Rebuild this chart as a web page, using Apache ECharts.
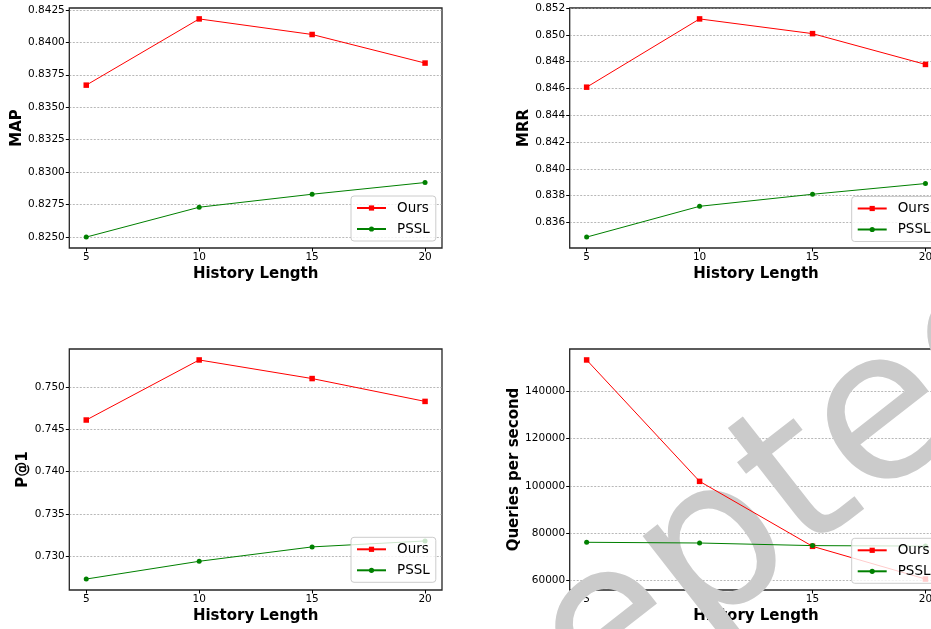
<!DOCTYPE html>
<html><head><meta charset="utf-8">
<script src="https://cdn.jsdelivr.net/npm/echarts@6/dist/echarts.min.js"></script>
<style>html,body{margin:0;padding:0;overflow:hidden;background:#fff;width:931px;height:629px}#main{width:950px;height:629px}</style>
</head><body><div id="main"></div>
<script>
const historyLengths = [5, 10, 15, 20];
const mapOurs = [0.8367, 0.8418, 0.8406, 0.8384];
const mapPSSL = [0.8250, 0.8273, 0.8283, 0.8292];
const mrrOurs = [0.8461, 0.8512, 0.8501, 0.8478];
const mrrPSSL = [0.8349, 0.8372, 0.8381, 0.8389];
const p1Ours = [0.7461, 0.7532, 0.7510, 0.7483];
const p1PSSL = [0.7273, 0.7294, 0.7311, 0.7318];
const qpsOurs = [153100, 101900, 74500, 60700];
const qpsPSSL = [76200, 75900, 74800, 74600];
const xTicks = [5, 10, 15, 20];
const mapTicks = [0.8250, 0.8275, 0.8300, 0.8325, 0.8350, 0.8375, 0.8400, 0.8425];
const mrrTicks = [0.836, 0.838, 0.840, 0.842, 0.844, 0.846, 0.848, 0.850, 0.852];
const p1Ticks = [0.730, 0.735, 0.740, 0.745, 0.750];
const qpsTicks = [60000, 80000, 100000, 120000, 140000];
const seriesNames = ['Ours', 'PSSL'];
const xName = 'History Length';
const yNames = ['MAP', 'MRR', 'P@1', 'Queries per second'];
const watermarkText = 'Accepted';

const panels = [
  {ours: mapOurs, pssl: mapPSSL, ticks: mapTicks, dec: 4, left: 69.3, top: 8, height: 240, gap: 44, lg: [351, 196]},
  {ours: mrrOurs, pssl: mrrPSSL, ticks: mrrTicks, dec: 3, left: 569.7, top: 8, height: 240, gap: 36.5, lg: [851.7, 196.5]},
  {ours: p1Ours, pssl: p1PSSL, ticks: p1Ticks, dec: 3, left: 69.3, top: 349, height: 241, gap: 33.5, lg: [351, 537.3]},
  {ours: qpsOurs, pssl: qpsPSSL, ticks: qpsTicks, dec: 0, left: 569.7, top: 349, height: 241, gap: 46, lg: [851.7, 538.3]}
];
const W = 372.7;
const font = 'DejaVu Sans';
function padRange(arrs) {
  const all = [].concat(...arrs);
  const mn = Math.min(...all), mx = Math.max(...all);
  const m = (mx - mn) * 0.05;
  return [mn - m, mx + m];
}
const xr = padRange([historyLengths]);
const grids = [], xAxes = [], yAxes = [], series = [], legends = [];
panels.forEach((p, i) => {
  grids.push({left: p.left, top: p.top, width: W, height: p.height, show: true,
    borderColor: '#262626', borderWidth: 1.3, backgroundColor: 'transparent', containLabel: false});
  xAxes.push({type: 'value', gridIndex: i, min: xr[0], max: xr[1],
    name: xName, nameLocation: 'middle', nameGap: 18.5,
    nameTextStyle: {fontFamily: font, fontWeight: 'bold', fontSize: 15, color: '#000'},
    axisLine: {show: false},
    axisTick: {show: true, length: 3.5, customValues: xTicks, lineStyle: {color: '#000', width: 1}},
    axisLabel: {customValues: xTicks, margin: 4, fontFamily: font, fontSize: 10.5, color: '#000'},
    splitLine: {show: false}});
  const yr = padRange([p.ours, p.pssl]);
  yAxes.push({type: 'value', gridIndex: i, min: yr[0], max: yr[1],
    name: yNames[i], nameLocation: 'middle', nameGap: p.gap,
    nameTextStyle: {fontFamily: font, fontWeight: 'bold', fontSize: 15, color: '#000'},
    axisLine: {show: false},
    axisTick: {show: true, length: 3.5, customValues: p.ticks, lineStyle: {color: '#000', width: 1}},
    axisLabel: {customValues: p.ticks, margin: 4.5, fontFamily: font, fontSize: 10.5, color: '#000',
      formatter: v => Number(v).toFixed(p.dec)},
    splitLine: {show: true, lineStyle: {type: [2, 1.5], color: '#9a9a9a', width: 0.7}}});
  series.push({type: 'line', name: seriesNames[0], xAxisIndex: i, yAxisIndex: i,
    data: historyLengths.map((x, k) => [x, p.ours[k]]), symbol: 'rect', symbolSize: 5.5,
    itemStyle: {color: '#ff0000'}, lineStyle: {color: '#ff0000', width: 1}, emphasis: {disabled: true}, z: 3});
  series.push({type: 'line', name: seriesNames[1], xAxisIndex: i, yAxisIndex: i,
    data: historyLengths.map((x, k) => [x, p.pssl[k]]), symbol: 'circle', symbolSize: 5,
    itemStyle: {color: '#008000'}, lineStyle: {color: '#008000', width: 1}, emphasis: {disabled: true}, z: 3});
  legends.push({left: p.lg[0], top: p.lg[1], orient: 'vertical', itemWidth: 29, itemHeight: 6.5, itemGap: 7,
    padding: [5, 6, 5, 5], borderColor: '#cccccc', borderWidth: 1, borderRadius: 3,
    backgroundColor: 'rgba(255,255,255,0.8)', selectedMode: false, data: seriesNames,
    textStyle: {fontFamily: font, fontSize: 13.5, color: '#000', padding: [0, 0, 0, 6]}});
});
const chart = echarts.init(document.getElementById('main'), null, {renderer: 'canvas'});
chart.setOption({
  animation: false,
  backgroundColor: '#fff',
  grid: grids, xAxis: xAxes, yAxis: yAxes, series: series, legend: legends,
  graphic: [{type: 'text', x: 656, y: 602, rotation: 38 * Math.PI / 180, z: 1, silent: true,
    style: {text: watermarkText, fontSize: 210, fontFamily: font, fill: '#cbcbcb', align: 'center', verticalAlign: 'middle'}}]
});
</script></body></html>
